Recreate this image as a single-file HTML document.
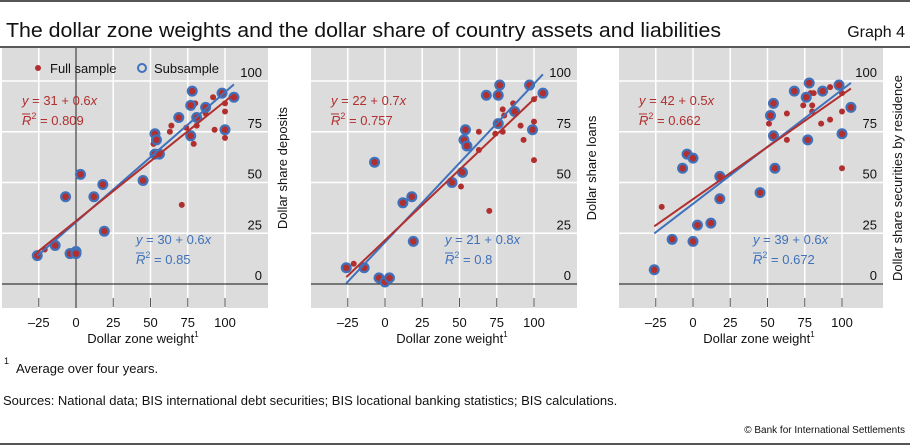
<!DOCTYPE html>
<html><head><meta charset="utf-8">
<style>
body{margin:0;background:#fff;font-family:"Liberation Sans",sans-serif;}
svg{display:block}
text{font-family:"Liberation Sans",sans-serif;}
</style></head>
<body>
<svg id="chart" width="910" height="445" viewBox="0 0 910 445">
<line x1="0" y1="1" x2="910" y2="1" stroke="#555" stroke-width="2"/>
<text x="6" y="37" font-size="20" fill="#111" textLength="715" lengthAdjust="spacingAndGlyphs">The dollar zone weights and the dollar share of country assets and liabilities</text>
<text x="905" y="37" font-size="16" fill="#111" text-anchor="end">Graph 4</text>
<line x1="0" y1="47" x2="910" y2="47" stroke="#222" stroke-width="1.5"/>
<g id="panels"></g>
<text x="4" y="364" font-size="9" fill="#111">1</text>
<text x="16" y="373" font-size="13" fill="#111">Average over four years.</text>
<text x="3" y="405" font-size="13" fill="#111">Sources: National data; BIS international debt securities; BIS locational banking statistics; BIS calculations.</text>
<line x1="0" y1="444" x2="910" y2="444" stroke="#555" stroke-width="2"/>
<text x="905" y="433" font-size="10" fill="#111" text-anchor="end">© Bank for International Settlements</text>
</svg>
<script>
const xTicks = [-25, 0, 25, 50, 75, 100];
const yTicks = [0, 25, 50, 75, 100];
const yTitles = ["Dollar share deposits", "Dollar share loans", "Dollar share securities by residence"];
// Panel 1 (deposits)
const p1SubX = [-26,-14,-7,-4,0,0,3,12,18,19,45,53,54,53,56,69,78,77,77,81,87,98,100,106];
const p1SubY = [14,19,43,15,16,15,54,43,49,26,51,74,71,64,64,82,95,88,73,82,87,94,76,92];
const p1FullX = [-21,52,63,64,71,74,80,79,81,87,92,93,100,100,100];
const p1FullY = [17,69,75,78,39,77,89,69,78,84,92,76,89,85,72];
// Panel 2 (loans)
const p2SubX = [-26,-14,-7,-4,0,3,12,18,19,45,52,53,54,55,68,77,76,76,87,97,99,106];
const p2SubY = [8,8,60,3,1,3,40,43,21,50,55,71,76,68,93,98,93,79,85,98,76,94];
const p2FullX = [-21,51,63,63,70,74,79,80,79,86,91,93,100,100,100];
const p2FullY = [10,48,75,66,36,74,86,83,75,89,78,71,91,80,61];
// Panel 3 (securities)
const p3SubX = [-26,-14,-7,-4,0,0,3,12,18,18,45,52,54,54,55,68,78,76,77,87,98,100,106];
const p3SubY = [7,22,57,64,62,21,29,30,42,53,45,83,89,73,57,95,99,92,71,95,98,74,87];
const p3FullX = [-21,51,63,63,74,79,81,80,80,86,92,92,100,100,100];
const p3FullY = [38,79,84,71,88,94,94,88,85,79,81,97,94,85,57];
// Regression lines: intercept, slope, x-range
const redIntercepts = [31, 21.5, 41.8];
const redSlopes = [0.59, 0.696, 0.514];
const redXEnd = [104, 102, 106];
const blueIntercepts = [30.5, 20.6, 39.5];
const blueSlopes = [0.64, 0.78, 0.562];
const blueXEnd = [106, 106, 106];
const redEq = [["31","0.6","0.809"],["22","0.7","0.757"],["42","0.5","0.662"]];
const blueEq = [["30","0.6","0.85"],["21","0.8","0.8"],["39","0.6","0.672"]];

const subX=[p1SubX,p2SubX,p3SubX], subY=[p1SubY,p2SubY,p3SubY];
const fullX=[p1FullX,p2FullX,p3FullX], fullY=[p1FullY,p2FullY,p3FullY];

const NS="http://www.w3.org/2000/svg";
const RED="#b22f2f", BLUE="#3f72bb";
const layout=[{left:2,right:268,x0:76},{left:311,right:577,x0:385},{left:619,right:883,x0:693}];
const TOP=48,BOT=308,Y0=284,YS=2.03,XS=1.49;
function el(tag,attrs,parent){const e=document.createElementNS(NS,tag);for(const k in attrs)e.setAttribute(k,attrs[k]);parent.appendChild(e);return e;}
const root=document.getElementById('panels');
layout.forEach((L,i)=>{
  const sx=v=>L.x0+v*XS, sy=v=>Y0-v*YS;
  const g=el('g',{},root);
  
  
  const bg=el('rect',{x:L.left,y:TOP,width:L.right-L.left,height:BOT-TOP,fill:"#dcdcdc"},g);
  
  
  xTicks.forEach(t=>{
    const gl=el('line',{x1:sx(t),x2:sx(t),y1:TOP,y2:BOT,stroke:"#fff","stroke-width":1.5},g);
    
    
    const tk=el('line',{x1:sx(t),x2:sx(t),y1:298,y2:307,stroke:"#555","stroke-width":1},g);
    
    
    const tl=el('text',{x:sx(t),y:327,"font-size":13,"text-anchor":"middle",fill:"#111"},g);
    tl.textContent=(t<0?"\u2013"+(-t):t);
    
    
  });
  yTicks.forEach(t=>{
    if(t>0){const gl=el('line',{x1:L.left,x2:L.right,y1:sy(t),y2:sy(t),stroke:"#fff","stroke-width":1.5},g);
    
    }
    const tl=el('text',{x:L.right-6,y:sy(t)-4,"font-size":13,"text-anchor":"end",fill:"#111"},g);
    tl.textContent=t;
    
    
  });
  const zl=el('line',{x1:L.left,x2:L.right,y1:sy(0),y2:sy(0),stroke:"#111","stroke-width":1},g);
  
  
  if(i===0){const vl=el('line',{x1:sx(0),x2:sx(0),y1:TOP,y2:BOT,stroke:"#111","stroke-width":1},g);
    
    }
  fullX[i].forEach((x,j)=>{const c=el('circle',{cx:sx(x),cy:sy(fullY[i][j]),r:3,fill:RED},g);
    
    });
  subX[i].forEach((x,j)=>{
    const c=el('circle',{cx:sx(x),cy:sy(subY[i][j]),r:5.5,fill:BLUE},g);
    
    
    const d=el('circle',{cx:sx(x),cy:sy(subY[i][j]),r:3.3,fill:RED},g);
    
    
  });
  const xs=-26;
  const bl=el('line',{x1:sx(xs),y1:sy(blueIntercepts[i]+blueSlopes[i]*xs),x2:sx(blueXEnd[i]),y2:sy(blueIntercepts[i]+blueSlopes[i]*blueXEnd[i]),stroke:BLUE,"stroke-width":2},g);
  
  
  const rl=el('line',{x1:sx(xs),y1:sy(redIntercepts[i]+redSlopes[i]*xs),x2:sx(redXEnd[i]),y2:sy(redIntercepts[i]+redSlopes[i]*redXEnd[i]),stroke:RED,"stroke-width":2},g);
  
  
  const ex=L.left+20, bx=L.left+134;
  const eq=(x,y,col,v,nm)=>{
    const t1=el('text',{x:x,y:y,"font-size":13,fill:col},g);
    t1.innerHTML='<tspan font-style="italic">y</tspan> = '+v[0]+' + '+v[1]+'<tspan font-style="italic">x</tspan>';
    
    
    const t2=el('text',{x:x,y:y+20,"font-size":13,fill:col},g);
    t2.innerHTML='<tspan font-style="italic">R</tspan><tspan dy="-6" font-size="9">2</tspan><tspan dy="6"> = '+v[2]+'</tspan>';
    
    
    el('line',{x1:x,x2:x+8,y1:y+9,y2:y+9,stroke:col,"stroke-width":1},g);
  };
  eq(ex,105,RED,redEq[i],'full-sample');
  eq(bx,244,BLUE,blueEq[i],'subsample');
  const xt=el('text',{x:(L.left+L.right)/2+8,y:343,"font-size":13,"text-anchor":"middle",fill:"#111"},g);
  xt.innerHTML='Dollar zone weight<tspan dy="-6" font-size="8">1</tspan>';
  
  
  const yx=L.right+19, yc=(TOP+BOT)/2-10+(i===2?10:0);
  const yt=el('text',{x:yx,y:yc,"font-size":13,"text-anchor":"middle",fill:"#111",transform:`rotate(-90 ${yx} ${yc})`},g);
  yt.textContent=yTitles[i];
  
  
});
const lg=el('g',{},root);


const d1=el('circle',{cx:38,cy:68,r:3,fill:RED},lg);


const t1=el('text',{x:50,y:73,"font-size":13,fill:"#111"},lg);t1.textContent="Full sample";


const d2=el('circle',{cx:142,cy:68,r:4,fill:"none",stroke:BLUE,"stroke-width":2},lg);


const t2=el('text',{x:154,y:73,"font-size":13,fill:"#111"},lg);t2.textContent="Subsample";


</script>
</body></html>
